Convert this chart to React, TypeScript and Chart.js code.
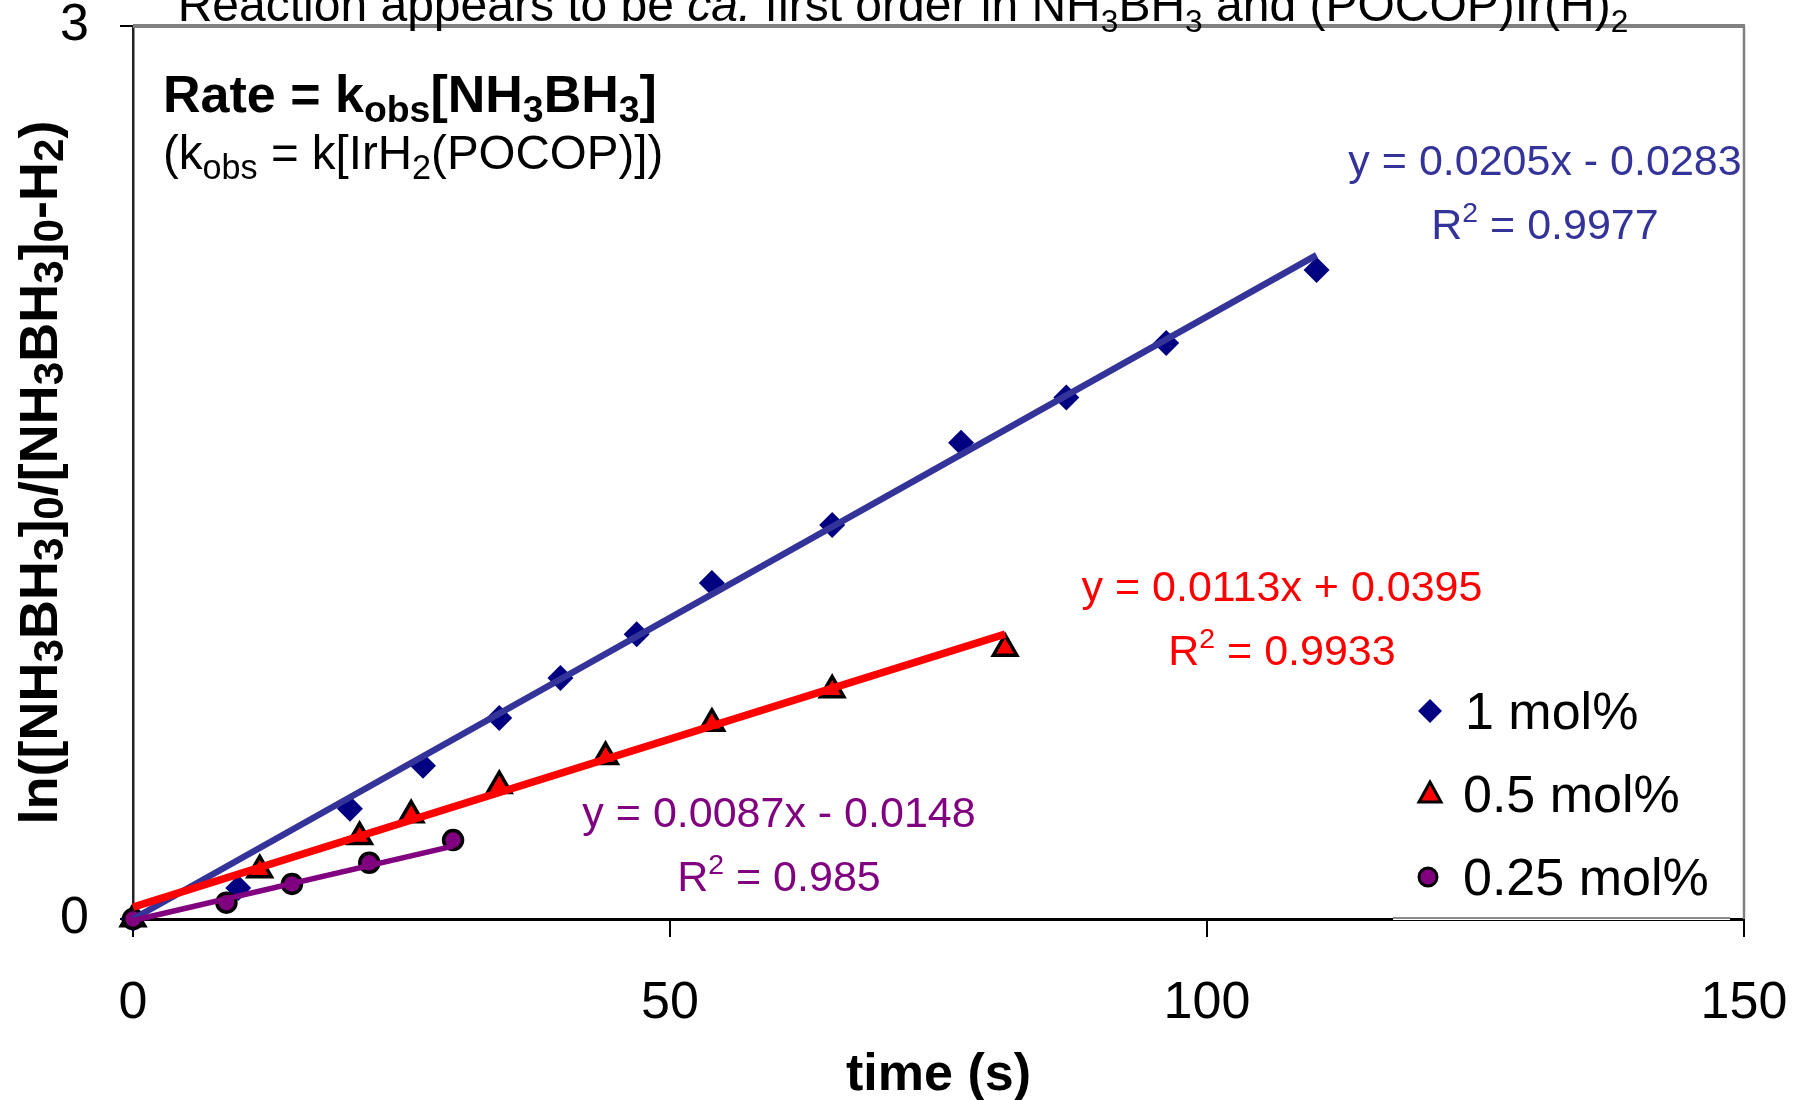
import React, { useEffect, useRef } from "react";
import { Chart, registerables } from "chart.js";

Chart.register(...registerables);

const FONT = "'Liberation Sans', Arial, sans-serif";

// ---- data ----
const xTickValues = [0, 50, 100, 150];
const yTickValues = [0, 3];

const seriesLabels = ["1 mol%", "0.5 mol%", "0.25 mol%"];

const time1 = [0, 9.8, 20.2, 27.0, 34.1, 39.8, 46.9, 53.9, 65.1, 77.1, 86.9, 96.2, 110.2];
const ln1 = [0, 0.104, 0.37, 0.515, 0.675, 0.81, 0.957, 1.129, 1.324, 1.6, 1.752, 1.935, 2.18];

const time05 = [0, 11.8, 21.1, 25.9, 34.1, 44.0, 53.9, 65.1, 81.2];
const ln05 = [0, 0.165, 0.276, 0.349, 0.448, 0.545, 0.657, 0.769, 0.909];

const time025 = [0, 8.7, 14.8, 22.0, 29.8];
const ln025 = [0, 0.055, 0.118, 0.189, 0.265];

// trend lines (end points)
const fitTime1 = [0, 110.2];
const fitLn1 = [0.0, 2.23];
const fitTime05 = [0, 81.2];
const fitLn05 = [0.04, 0.957];
const fitTime025 = [0, 29.8];
const fitLn025 = [-0.005, 0.245];

const eqTexts = ["y = 0.0205x - 0.0283", "y = 0.0113x + 0.0395", "y = 0.0087x - 0.0148"];
const r2Texts = [" = 0.9977", " = 0.9933", " = 0.985"];

const COLORS = {
  line1: "#333399",
  mark1: "#000080",
  red: "#FF0000",
  purple: "#800080",
};

const pts = (xs: number[], ys: number[]) => xs.map((x, i) => ({ x, y: ys[i] }));

type Seg = { t: string; sub?: boolean; sup?: boolean; italic?: boolean };

function segFont(seg: Seg, size: number, bold: boolean, subScale: number) {
  const s = seg.sub || seg.sup ? size * subScale : size;
  return `${seg.italic ? "italic " : ""}${bold ? "bold " : ""}${s}px ${FONT}`;
}

function drawRich(
  ctx: CanvasRenderingContext2D,
  segs: Seg[],
  x: number,
  y: number,
  size: number,
  color: string,
  bold: boolean,
  align: "left" | "center" | "right",
  subScale = 0.66,
  subDy = 0.22,
  supDy = 0.4
) {
  ctx.save();
  ctx.fillStyle = color;
  ctx.textBaseline = "alphabetic";
  ctx.textAlign = "left";
  let total = 0;
  const widths = segs.map((sg) => {
    ctx.font = segFont(sg, size, bold, subScale);
    const w = ctx.measureText(sg.t).width;
    total += w;
    return w;
  });
  let cx = align === "center" ? x - total / 2 : align === "right" ? x - total : x;
  segs.forEach((sg, i) => {
    ctx.font = segFont(sg, size, bold, subScale);
    const dy = sg.sub ? size * subDy : sg.sup ? -size * supDy : 0;
    ctx.fillText(sg.t, cx, y + dy);
    cx += widths[i];
  });
  ctx.restore();
}

const overlayPlugin = {
  id: "overlay",
  afterDraw(chart: any) {
    const ctx: CanvasRenderingContext2D = chart.ctx;
    const a = chart.chartArea;

    // plot-area frame (top and right, grey)
    ctx.save();
    ctx.strokeStyle = "#808080";
    ctx.lineWidth = 4;
    ctx.beginPath();
    ctx.moveTo(a.left, a.top);
    ctx.lineTo(a.right + 1, a.top);
    ctx.stroke();
    ctx.lineWidth = 2.5;
    ctx.beginPath();
    ctx.moveTo(a.right, a.top);
    ctx.lineTo(a.right, a.bottom);
    ctx.stroke();
    ctx.restore();

    // legend box
    const lbLeft = a.right - 351;
    const lbRight = a.right - 14;
    const lbBottom = a.bottom - 1;
    const lbTop = a.bottom - 245;
    ctx.save();
    ctx.fillStyle = "#ffffff";
    ctx.fillRect(lbLeft, lbTop, lbRight - lbLeft, lbBottom - lbTop + 2);
    ctx.strokeStyle = "#8a8a8a";
    ctx.lineWidth = 2;
    ctx.beginPath();
    ctx.moveTo(lbLeft, lbBottom);
    ctx.lineTo(lbRight, lbBottom);
    ctx.stroke();

    const mx = lbLeft + 37;
    const rowY = [a.bottom - 208, a.bottom - 125, a.bottom - 42];
    // diamond
    ctx.fillStyle = COLORS.mark1;
    ctx.beginPath();
    ctx.moveTo(mx, rowY[0] - 12);
    ctx.lineTo(mx + 12, rowY[0]);
    ctx.lineTo(mx, rowY[0] + 12);
    ctx.lineTo(mx - 12, rowY[0]);
    ctx.closePath();
    ctx.fill();
    // triangle
    ctx.fillStyle = COLORS.red;
    ctx.strokeStyle = "#000";
    ctx.lineWidth = 3;
    ctx.beginPath();
    ctx.moveTo(mx, rowY[1] - 12);
    ctx.lineTo(mx + 11, rowY[1] + 8);
    ctx.lineTo(mx - 11, rowY[1] + 8);
    ctx.closePath();
    ctx.fill();
    ctx.stroke();
    // circle
    ctx.fillStyle = COLORS.purple;
    ctx.beginPath();
    ctx.arc(mx - 2, rowY[2], 9, 0, Math.PI * 2);
    ctx.fill();
    ctx.stroke();
    ctx.restore();

    const tx = lbLeft + 70;
    seriesLabels.forEach((lab, i) => {
      drawRich(ctx, [{ t: lab }], i === 0 ? tx + 2 : tx, rowY[i] + 18, 52, "#000", false, "left");
    });

    // title (partly cut off by the top edge)
    drawRich(
      ctx,
      [
        { t: "Reaction appears to be " },
        { t: "ca.", italic: true },
        { t: " first order in NH" },
        { t: "3", sub: true },
        { t: "BH" },
        { t: "3", sub: true },
        { t: " and (POCOP)Ir(H)" },
        { t: "2", sub: true },
      ],
      903,
      21,
      48,
      "#000",
      false,
      "center"
    );

    // rate law annotation
    drawRich(
      ctx,
      [{ t: "Rate = k" }, { t: "obs", sub: true }, { t: "[NH" }, { t: "3", sub: true }, { t: "BH" }, { t: "3", sub: true }, { t: "]" }],
      163,
      112,
      52,
      "#000",
      true,
      "left",
      0.72,
      0.2
    );
    drawRich(
      ctx,
      [{ t: "(k" }, { t: "obs", sub: true }, { t: " = k[IrH" }, { t: "2", sub: true }, { t: "(POCOP)])" }],
      163,
      169,
      47.5,
      "#000",
      false,
      "left",
      0.72,
      0.22
    );

    // trend line equations
    const eqPos = [
      { x: 1545, y: 175, c: COLORS.line1 },
      { x: 1282, y: 601, c: COLORS.red },
      { x: 779, y: 827, c: COLORS.purple },
    ];
    eqPos.forEach((p, i) => {
      drawRich(ctx, [{ t: eqTexts[i] }], p.x, p.y, 43, p.c, false, "center");
      drawRich(ctx, [{ t: "R" }, { t: "2", sup: true }, { t: r2Texts[i] }], p.x, p.y + 64, 43, p.c, false, "center", 0.66, 0.22, 0.4);
    });

    // axis titles
    drawRich(ctx, [{ t: "time (s)" }], (a.left + a.right) / 2, 1090, 52, "#000", true, "center");
    ctx.save();
    ctx.translate(57, (a.top + a.bottom) / 2);
    ctx.rotate(-Math.PI / 2);
    drawRich(
      ctx,
      [
        { t: "ln([NH" },
        { t: "3", sub: true },
        { t: "BH" },
        { t: "3", sub: true },
        { t: "]" },
        { t: "0", sub: true },
        { t: "/[NH" },
        { t: "3", sub: true },
        { t: "BH" },
        { t: "3", sub: true },
        { t: "]" },
        { t: "0", sub: true },
        { t: "-H" },
        { t: "2", sub: true },
        { t: ")" },
      ],
      0,
      0,
      54,
      "#000",
      true,
      "center",
      0.78,
      0.12
    );
    ctx.restore();
  },
};

export default function App() {
  const ref = useRef<HTMLCanvasElement | null>(null);

  useEffect(() => {
    if (!ref.current) return;
    const chart = new Chart(ref.current, {
      type: "scatter",
      data: {
        datasets: [
          {
            label: "fit 0.25",
            data: pts(fitTime025, fitLn025),
            showLine: true,
            borderColor: COLORS.purple,
            borderWidth: 5.5,
            pointRadius: 0,
            order: 1,
            clip: false,
          },
          {
            label: "fit 0.5",
            data: pts(fitTime05, fitLn05),
            showLine: true,
            borderColor: COLORS.red,
            borderWidth: 7.5,
            pointRadius: 0,
            order: 2,
            clip: false,
          },
          {
            label: "fit 1",
            data: pts(fitTime1, fitLn1),
            showLine: true,
            borderColor: COLORS.line1,
            borderWidth: 6.5,
            pointRadius: 0,
            order: 3,
            clip: false,
          },
          {
            label: seriesLabels[2],
            data: pts(time025, ln025),
            pointStyle: "circle",
            pointRadius: 9.5,
            backgroundColor: COLORS.purple,
            borderColor: "#000",
            borderWidth: 3.5,
            order: 4,
            clip: false,
          },
          {
            label: seriesLabels[1],
            data: pts(time05, ln05),
            pointStyle: "triangle",
            pointRadius: 13.5,
            backgroundColor: COLORS.red,
            borderColor: "#000",
            borderWidth: 3.5,
            order: 5,
            clip: false,
          },
          {
            label: seriesLabels[0],
            data: pts(time1, ln1),
            pointStyle: "rectRot",
            pointRadius: 13,
            backgroundColor: COLORS.mark1,
            borderColor: COLORS.mark1,
            borderWidth: 0,
            order: 6,
            clip: false,
          },
        ],
      },
      options: {
        animation: false,
        responsive: false,
        devicePixelRatio: 1,
        events: [],
        layout: { padding: { left: 0, top: 26, right: 59, bottom: 0 } },
        plugins: {
          legend: { display: false },
          tooltip: { enabled: false },
        },
        scales: {
          x: {
            type: "linear",
            min: 0,
            max: 150,
            afterBuildTicks: (s: any) => {
              s.ticks = xTickValues.map((v) => ({ value: v }));
            },
            ticks: {
              color: "#000",
              font: { family: FONT, size: 52 },
              padding: 35,
            },
            grid: {
              drawOnChartArea: false,
              drawTicks: true,
              tickLength: 18,
              color: "#000",
              lineWidth: 2,
            },
            border: { display: true, color: "#000", width: 3 },
            afterFit: (s: any) => {
              s.height = 181;
              s.paddingLeft = 0;
              s.paddingRight = 0;
            },
          },
          y: {
            type: "linear",
            min: 0,
            max: 3,
            afterBuildTicks: (s: any) => {
              s.ticks = yTickValues.map((v) => ({ value: v }));
            },
            ticks: {
              color: "#000",
              font: { family: FONT, size: 52 },
              padding: 31,
            },
            grid: {
              drawOnChartArea: false,
              drawTicks: true,
              tickLength: 13,
              color: "#000",
              lineWidth: 2,
            },
            border: { display: true, color: "#222", width: 2.5 },
            afterFit: (s: any) => {
              s.width = 133;
              s.paddingTop = 0;
              s.paddingBottom = 0;
            },
          },
        },
      },
      plugins: [overlayPlugin],
    });
    return () => chart.destroy();
  }, []);

  return (
    <div style={{ position: "fixed", left: 0, top: 0, width: 1803, height: 1100, background: "#fff" }}>
      <canvas ref={ref} width={1803} height={1100} style={{ display: "block" }} />
    </div>
  );
}
